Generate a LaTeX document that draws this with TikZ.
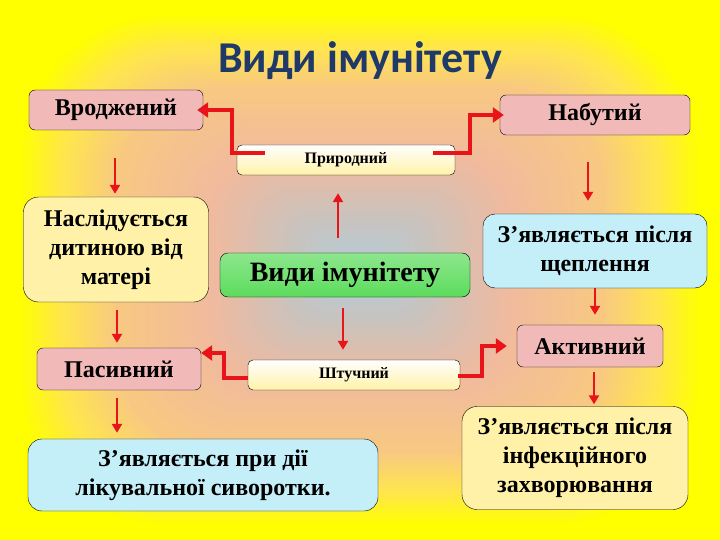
\documentclass[tikz,border=0pt]{standalone}
\usepackage{fontspec}
\setmainfont{Liberation Serif}
\newfontfamily\titlefont{Carlito}
\usetikzlibrary{arrows.meta}

\definecolor{bgyellow}{HTML}{FFFF00}
\definecolor{bglemon}{HTML}{FFE64C}
\definecolor{bgorange}{HTML}{F8C882}
\definecolor{bgpeach}{HTML}{F0BA9E}
\definecolor{bggrey}{HTML}{C9C3BE}
\definecolor{bgblue}{HTML}{B4CCD6}
\definecolor{titleblue}{HTML}{1F3A68}
\definecolor{arrowred}{HTML}{E8141A}
\definecolor{boxpink}{HTML}{F2B9B9}
\definecolor{boxcream}{HTML}{FFF2A8}
\definecolor{boxcyan}{HTML}{C4EEF8}
\definecolor{boxgreen}{HTML}{5CDC5C}

\tikzset{
  box/.style={draw=black, thin, align=center, inner sep=0pt,
    font=\bfseries\fontsize{24}{29}\selectfont},
  pinkbox/.style={box, rounded corners=6pt, top color=boxpink, middle color=white, bottom color=boxpink},
  creambox/.style={box, rounded corners=15pt, top color=boxcream, middle color=white!60!boxcream, bottom color=boxcream},
  cyanbox/.style={box, rounded corners=14pt, top color=boxcyan, middle color=white, bottom color=boxcyan},
  smallbox/.style={box, rounded corners=5pt, top color=white, bottom color=boxcream,
    font=\bfseries\fontsize{16}{19}\selectfont},
  elbow/.style={draw=arrowred, line width=4.5pt, -{Triangle[length=11pt,width=15pt]}},
  down/.style={draw=arrowred, line width=2.6pt, -{Triangle[length=9pt,width=10pt]}}
}

\begin{document}
\begin{tikzpicture}[x=1pt,y=-1pt]
\useasboundingbox (0,0) rectangle (720,540);

% background
\fill[bgyellow] (0,0) rectangle (720,540);
\foreach \ca/\cb/\ta/\tb in {bgyellow/bglemon/0.05/0.17, bglemon/bgorange/0.17/0.32,
    bgorange/bgpeach/0.32/0.58, bgpeach/bggrey/0.58/0.8, bggrey/bgblue/0.8/0.98}{
  \foreach \k in {0,...,11}{
    \pgfmathsetmacro\tpos{\ta+(\tb-\ta)*\k/12}
    \pgfmathtruncatemacro\pct{100*\k/12}
    \pgfmathsetmacro\rad{150*(1-\tpos)}
    \fill[\cb!\pct!\ca, rounded corners=\rad pt] (360*\tpos,270*\tpos) rectangle (720-360*\tpos,540-270*\tpos);
  }
}

\node[font=\titlefont\bfseries\fontsize{44}{52}\selectfont, text=titleblue] (title) at (360,61) {Види імунітету};

\node[pinkbox, minimum width=174pt, minimum height=40pt] (vrod) at (116,110) {Вроджений};
\node[pinkbox, minimum width=190pt, minimum height=40pt] (nab) at (595,115) {Набутий};
\node[smallbox, minimum width=218pt, minimum height=30pt] (prir) at (346,160) {Природний};

\node[creambox, minimum width=185pt, minimum height=105pt] (nasl) at (116,249.5) {Наслідується\\дитиною від\\матері};
\node[box, rounded corners=8pt, top color=boxgreen!70, middle color=white, bottom color=boxgreen,
  minimum width=250pt, minimum height=44pt, font=\bfseries\fontsize{28}{32}\selectfont] (vydy) at (345,275) {Види імунітету};
\node[cyanbox, rounded corners=12pt, minimum width=224pt, minimum height=74pt] (shchep) at (595,251) {З’являється після\\щеплення};

\node[pinkbox, minimum width=164pt, minimum height=42pt] (pas) at (119,369) {Пасивний};
\node[smallbox, minimum width=212pt, minimum height=30pt] (shtuch) at (354,375) {Штучний};
\node[pinkbox, minimum width=146pt, minimum height=42pt] (akt) at (590,346) {Активний};

\node[cyanbox, minimum width=350pt, minimum height=72pt] (syv) at (203,475) {З’являється при дії\\лікувальної сиворотки.};
\node[creambox, minimum width=226pt, minimum height=103pt] (infek) at (575,458) {З’являється після\\інфекційного\\захворювання};

% elbow arrows
\draw[elbow] ([xshift=28pt,yshift=7pt]prir.west) -- ++(-33,0) |- ([xshift=-6pt]vrod.east);
\draw[elbow] ([xshift=-22pt,yshift=7pt]prir.east) -- ++(37,0) |- ([xshift=4pt]nab.west);
\draw[elbow] ([yshift=-3pt]shtuch.west) -- ++(-24,0) |- ([yshift=16pt]pas.east);
\draw[elbow] ([xshift=-2pt,yshift=-1pt]shtuch.east) -- ++(24,0) |- ([xshift=-10pt]akt.west);

% straight arrows
\draw[down, shorten >=18pt] ([xshift=-7pt,yshift=15pt]vydy.north) -- ([xshift=-7pt]vydy.north |- prir.south);
\draw[down, shorten >=10pt] ([xshift=-2pt,yshift=-11pt]vydy.south) -- ([xshift=-2pt]vydy.south |- shtuch.north);

\draw[down, shorten >=3pt] ([xshift=-1pt,yshift=-28pt]vrod.south) -- ([xshift=-1pt]vrod.south |- nasl.north);
\draw[down, shorten >=5pt] ([xshift=1pt,yshift=-8pt]nasl.south) -- ([xshift=1pt]nasl.south |- pas.north);
\draw[down, shorten >=6pt] ([xshift=-2pt,yshift=-8pt]pas.south) -- ([xshift=-2pt]pas.south |- syv.north);

\draw[down, shorten >=13pt] ([xshift=-7pt,yshift=-27pt]nab.south) -- ([xshift=-7pt]nab.south |- shchep.north);
\draw[down, shorten >=10pt] (shchep.south) -- (shchep.south |- akt.north);
\draw[down, shorten >=2pt] ([xshift=4pt,yshift=-5pt]akt.south) -- ([xshift=4pt]akt.south |- infek.north);
\end{tikzpicture}
\end{document}
